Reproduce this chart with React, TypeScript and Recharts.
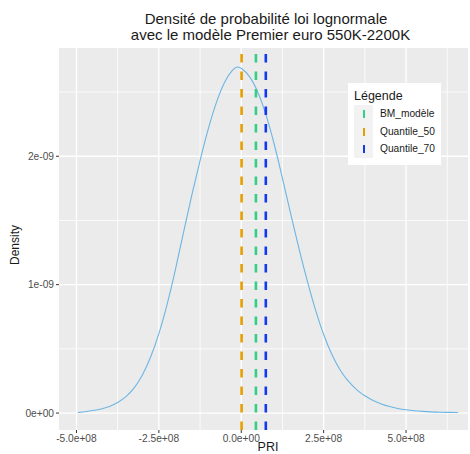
import React from 'react';
import { ComposedChart, Line, XAxis, YAxis, CartesianGrid, ReferenceLine } from 'recharts';

const priValues = [-4.95e8, -4.75e8, -4.5e8, -4.25e8, -4.0e8, -3.75e8, -3.5e8, -3.25e8, -3.0e8, -2.75e8, -2.5e8, -2.25e8, -2.0e8, -1.75e8, -1.5e8, -1.25e8, -1.0e8, -0.75e8, -0.5e8, -0.25e8, -0.12e8, 0, 0.25e8, 0.5e8, 0.75e8, 1.0e8, 1.25e8, 1.5e8, 1.75e8, 2.0e8, 2.25e8, 2.5e8, 2.75e8, 3.0e8, 3.25e8, 3.5e8, 3.75e8, 4.0e8, 4.25e8, 4.5e8, 4.75e8, 5.0e8, 5.25e8, 5.5e8, 5.75e8, 6.0e8, 6.25e8, 6.58e8];
const densityValues = [0.004e-9, 0.010e-9, 0.019e-9, 0.031e-9, 0.050e-9, 0.080e-9, 0.124e-9, 0.19e-9, 0.29e-9, 0.43e-9, 0.61e-9, 0.84e-9, 1.11e-9, 1.41e-9, 1.70e-9, 1.97e-9, 2.22e-9, 2.43e-9, 2.59e-9, 2.68e-9, 2.70e-9, 2.69e-9, 2.63e-9, 2.51e-9, 2.33e-9, 2.10e-9, 1.83e-9, 1.55e-9, 1.28e-9, 1.03e-9, 0.80e-9, 0.605e-9, 0.45e-9, 0.33e-9, 0.245e-9, 0.18e-9, 0.132e-9, 0.097e-9, 0.070e-9, 0.050e-9, 0.035e-9, 0.025e-9, 0.018e-9, 0.013e-9, 0.009e-9, 0.007e-9, 0.005e-9, 0.004e-9];

const legendNames = ['BM_modèle', 'Quantile_50', 'Quantile_70'];
const legendValues = [4.45e7, 0.1e7, 7.45e7];
const legendColors = ['#33CF84', '#E69F00', '#1338F2'];

const xTicks = [-5e8, -2.5e8, 0, 2.5e8, 5e8];
const xMinor = [-3.75e8, -1.25e8, 1.25e8, 3.75e8, 6.25e8];
const yTicks = [0, 1e-9, 2e-9];
const yMinor = [0.5e-9, 1.5e-9, 2.5e-9];

const data = priValues.map((p, i) => ({ pri: p, density: densityValues[i] }));

function expFmt(v: number, digits: number) {
  const s = v.toExponential(digits);
  const [m, e] = s.split('e');
  const sign = e[0] === '-' ? '-' : '+';
  const num = e.replace(/^[+-]/, '');
  return `${m}e${sign}${num.padStart(2, '0')}`;
}

const FONT = 'Liberation Sans, Arial, sans-serif';
const tickStyle = { fontSize: 10.2, fill: '#4D4D4D', fontFamily: FONT };

const LegendBox = () => (
  <div style={{ position: 'absolute', left: 348, top: 83, background: '#FFFFFF', width: 93, height: 82, boxSizing: 'border-box', padding: '6px 0 0 6px', fontFamily: FONT, color: '#1A1A1A' }}>
    <div style={{ fontSize: 12.5, lineHeight: '14px', marginBottom: 2 }}>Légende</div>
    <div style={{ display: 'flex' }}>
      <div style={{ width: 19, background: '#F2F2F2' }}>
        {legendNames.map((n, i) => (
          <div key={n} style={{ height: 17.5, position: 'relative' }}>
            <div style={{ position: 'absolute', left: 8.5, top: 5, width: 2.5, height: 8, background: legendColors[i] }} />
          </div>
        ))}
      </div>
      <div style={{ paddingLeft: 7 }}>
        {legendNames.map((n) => (
          <div key={n} style={{ height: 17.5, lineHeight: '17.5px', fontSize: 10.2 }}>{n}</div>
        ))}
      </div>
    </div>
  </div>
);

export default function App() {
  return (
    <div style={{ position: 'absolute', left: 0, top: 0, width: 470, height: 454, background: '#FFFFFF', overflow: 'hidden' }}>
      <ComposedChart width={470} height={454} data={data} margin={{ top: 48, right: 2, bottom: 2, left: 0 }}>
        <CartesianGrid fill="#EBEBEB" stroke="none" horizontal={false} vertical={false} />
        {xMinor.map((v) => (
          <ReferenceLine key={'xm' + v} x={v} stroke="#FFFFFF" strokeWidth={0.8} ifOverflow="hidden" />
        ))}
        {yMinor.map((v) => (
          <ReferenceLine key={'ym' + v} y={v} stroke="#FFFFFF" strokeWidth={0.8} ifOverflow="hidden" />
        ))}
        {xTicks.map((v) => (
          <ReferenceLine key={'xj' + v} x={v} stroke="#FFFFFF" strokeWidth={1.3} ifOverflow="hidden" />
        ))}
        {yTicks.map((v) => (
          <ReferenceLine key={'yj' + v} y={v} stroke="#FFFFFF" strokeWidth={1.3} ifOverflow="hidden" />
        ))}
        <XAxis
          type="number"
          dataKey="pri"
          domain={[-5.53e8, 6.88e8]}
          allowDataOverflow
          ticks={xTicks}
          tickFormatter={(v: number) => expFmt(v, 1)}
          tick={tickStyle}
          tickSize={3}
          tickLine={{ stroke: '#333333' }}
          axisLine={false}
          height={22}
          interval={0}
        />
        <YAxis
          type="number"
          domain={[-0.132e-9, 2.843e-9]}
          allowDataOverflow
          ticks={yTicks}
          tickFormatter={(v: number) => expFmt(v, 0)}
          tick={tickStyle}
          tickSize={3}
          tickLine={{ stroke: '#333333' }}
          axisLine={false}
          width={59}
          interval={0}
        />
        <Line type="basis" dataKey="density" stroke="#6DB5E3" strokeWidth={1.1} dot={false} isAnimationActive={false} />
        {legendNames.map((n, i) => (
          <ReferenceLine key={n} x={legendValues[i]} stroke={legendColors[i]} strokeWidth={2.6} strokeDasharray="8.5 9" ifOverflow="hidden" />
        ))}
      </ComposedChart>
      <LegendBox />
      <div style={{ position: 'absolute', left: 0, top: 11, width: 470, textAlign: 'center', fontFamily: FONT, fontSize: 15, lineHeight: '16px', color: '#1A1A1A', whiteSpace: 'pre' }}>
        <div style={{ paddingLeft: 62 }}>{'Densité de probabilité loi lognormale'}</div>
        <div style={{ paddingLeft: 71 }}>{'avec le modèle Premier euro 550K-2200K'}</div>
      </div>
      <div style={{ position: 'absolute', left: 15, top: 245, transform: 'translate(-50%, -50%) rotate(-90deg)', fontFamily: FONT, fontSize: 12, color: '#1A1A1A', whiteSpace: 'nowrap' }}>Density</div>
      <div style={{ position: 'absolute', left: 268, top: 440, transform: 'translateX(-50%)', fontFamily: FONT, fontSize: 12.5, lineHeight: '14px', color: '#1A1A1A', whiteSpace: 'nowrap' }}>PRI</div>
    </div>
  );
}
